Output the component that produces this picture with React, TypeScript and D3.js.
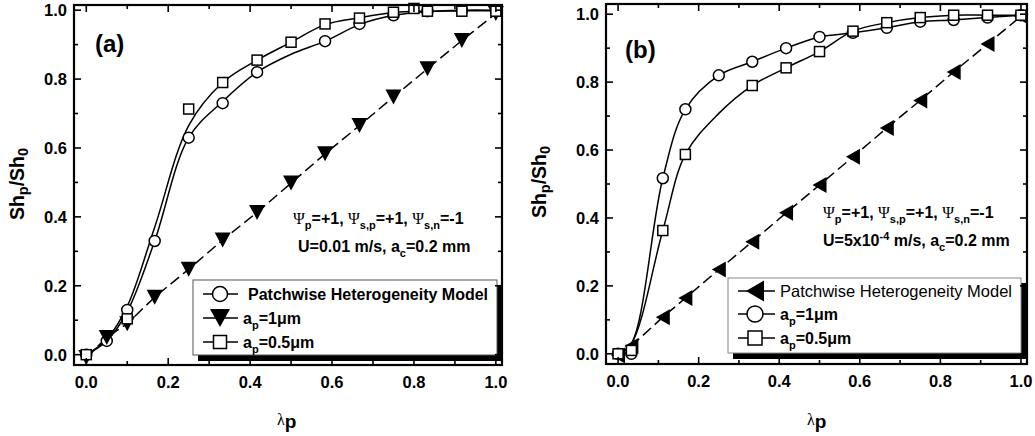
import React from "react";
import * as d3 from "d3";

// ---------- Panel (a) data ----------
const A_CIRCLE_X = [0, 0.05, 0.1, 0.167, 0.25, 0.333, 0.417, 0.583, 0.667, 0.75, 0.833, 0.917, 1.0];
const A_CIRCLE_Y = [0, 0.04, 0.13, 0.33, 0.63, 0.73, 0.82, 0.91, 0.96, 0.985, 0.997, 1.0, 1.0];
const A_TRI_X = [0, 0.05, 0.1, 0.167, 0.25, 0.333, 0.417, 0.5, 0.583, 0.667, 0.75, 0.833, 0.917, 1.0];
const A_TRI_Y = [-0.008, 0.05, 0.09, 0.167, 0.248, 0.333, 0.413, 0.498, 0.583, 0.665, 0.748, 0.83, 0.912, 0.99];
const A_SQ_X = [0, 0.1, 0.25, 0.333, 0.417, 0.5, 0.583, 0.667, 0.75, 0.8, 0.833, 0.917, 1.0];
const A_SQ_Y = [0, 0.104, 0.713, 0.79, 0.855, 0.907, 0.96, 0.977, 0.994, 1.005, 0.997, 0.997, 0.997];
// fitted (spline) curves
const A_CIRCLE_FIT_X = [0, 0.05, 0.1, 0.167, 0.25, 0.333, 0.417, 0.5, 0.583, 0.667, 0.75, 0.833, 0.917, 1.0];
const A_CIRCLE_FIT_Y = [0, 0.04, 0.125, 0.33, 0.63, 0.735, 0.82, 0.872, 0.91, 0.958, 0.985, 0.996, 1.0, 1.0];
const A_SQ_FIT_X = [0, 0.05, 0.1, 0.167, 0.25, 0.333, 0.417, 0.5, 0.583, 0.667, 0.75, 0.833, 0.917, 1.0];
const A_SQ_FIT_Y = [0, 0.045, 0.14, 0.37, 0.665, 0.79, 0.855, 0.907, 0.958, 0.978, 0.993, 0.997, 0.998, 0.998];

// ---------- Panel (b) data ----------
const B_TRI_X = [0, 0.033, 0.111, 0.167, 0.25, 0.333, 0.417, 0.5, 0.583, 0.667, 0.75, 0.833, 0.917, 1.0];
const B_TRI_Y = [-0.005, 0.023, 0.108, 0.164, 0.248, 0.33, 0.415, 0.497, 0.58, 0.665, 0.746, 0.83, 0.912, 0.994];
const B_CIRCLE_X = [0, 0.033, 0.111, 0.167, 0.25, 0.333, 0.417, 0.5, 0.583, 0.667, 0.75, 0.833, 0.917, 1.0];
const B_CIRCLE_Y = [0, 0.0, 0.517, 0.72, 0.82, 0.86, 0.9, 0.933, 0.945, 0.96, 0.978, 0.983, 0.99, 0.997];
const B_SQ_X = [0, 0.033, 0.111, 0.167, 0.333, 0.417, 0.5, 0.583, 0.667, 0.75, 0.833, 0.917, 1.0];
const B_SQ_Y = [0, 0.01, 0.363, 0.587, 0.79, 0.842, 0.89, 0.95, 0.975, 0.99, 0.997, 0.997, 0.997];
const B_CIRCLE_FIT_X = [0, 0.033, 0.111, 0.167, 0.25, 0.333, 0.417, 0.5, 0.583, 0.667, 0.75, 0.833, 0.917, 1.0];
const B_CIRCLE_FIT_Y = [0, 0.03, 0.517, 0.72, 0.82, 0.86, 0.9, 0.933, 0.945, 0.96, 0.978, 0.983, 0.99, 0.997];
const B_SQ_FIT_X = [0, 0.033, 0.111, 0.167, 0.25, 0.333, 0.417, 0.5, 0.583, 0.667, 0.75, 0.833, 0.917, 1.0];
const B_SQ_FIT_Y = [0, 0.03, 0.363, 0.587, 0.708, 0.79, 0.842, 0.89, 0.95, 0.975, 0.99, 0.997, 0.997, 0.997];

// ---------- Axes ----------
const MAJOR_TICKS = [0, 0.2, 0.4, 0.6, 0.8, 1.0];
const MINOR_TICKS = [0.1, 0.3, 0.5, 0.7, 0.9];
const TICK_LABELS = ["0.0", "0.2", "0.4", "0.6", "0.8", "1.0"];

const LEGEND_A = ["Patchwise Heterogeneity Model", "a_p=1μm", "a_p=0.5μm"];
const LEGEND_B = ["Patchwise Heterogeneity Model", "a_p=1μm", "a_p=0.5μm"];

const SANS = "'Liberation Sans', Arial, sans-serif";
const SERIF = "'Liberation Serif', 'Times New Roman', serif";

type Seg = { t: string; sub?: boolean; sup?: boolean; serif?: boolean; bold?: boolean };

function Rich({ x, y, segs, size, weight = "bold", subSize = 11 }: { x: number; y: number; segs: Seg[]; size: number; weight?: string; subSize?: number }) {
  let cur = 0;
  return (
    <text x={x} y={y} fontFamily={SANS} fontSize={size} fontWeight={weight} fill="#000">
      {segs.map((s, i) => {
        const target = s.sub ? 5 : s.sup ? -6 : 0;
        const dy = target - cur;
        cur = target;
        return (
          <tspan
            key={i}
            dy={dy}
            fontSize={s.sub || s.sup ? subSize : size}
            fontFamily={s.serif ? SERIF : SANS}
            fontWeight={s.serif ? "normal" : s.bold === false ? "normal" : weight}
          >
            {s.t}
          </tspan>
        );
      })}
    </text>
  );
}

function legendSegs(label: string): Seg[] {
  if (label.startsWith("a_p")) {
    return [{ t: "a" }, { t: "p", sub: true }, { t: label.slice(3) }];
  }
  return [{ t: label }];
}

function Circle({ cx, cy, r = 5.5 }: { cx: number; cy: number; r?: number }) {
  return <circle cx={cx} cy={cy} r={r} fill="#fff" stroke="#000" strokeWidth={1.5} />;
}
function Square({ cx, cy, s = 10 }: { cx: number; cy: number; s?: number }) {
  return <rect x={cx - s / 2} y={cy - s / 2} width={s} height={s} fill="#fff" stroke="#000" strokeWidth={1.5} />;
}
function TriDown({ cx, cy, w = 16, h = 15 }: { cx: number; cy: number; w?: number; h?: number }) {
  return <path d={`M${cx - w / 2},${cy - h / 2}L${cx + w / 2},${cy - h / 2}L${cx},${cy + h / 2}Z`} fill="#000" />;
}
function TriLeft({ cx, cy, w = 14, h = 16 }: { cx: number; cy: number; w?: number; h?: number }) {
  return <path d={`M${cx - w / 2},${cy}L${cx + w / 2},${cy - h / 2}L${cx + w / 2},${cy + h / 2}Z`} fill="#000" />;
}

type PanelProps = {
  left: number; right: number; top: number; bottom: number;
  yMax: number;
  children: (x: d3.ScaleLinear<number, number>, y: d3.ScaleLinear<number, number>) => React.ReactNode;
};

function Frame({ left, right, top, bottom, yMax, children }: PanelProps) {
  const x = d3.scaleLinear().domain([-0.03, 1.015]).range([left, right]);
  const y = d3.scaleLinear().domain([-0.03, yMax]).range([bottom, top]);
  const maj = 7, min = 4;
  return (
    <g>
      {children(x, y)}
      <g stroke="#000" strokeWidth={1.6}>
        {MAJOR_TICKS.map((t) => (
          <g key={"M" + t}>
            <line x1={x(t)} x2={x(t)} y1={bottom} y2={bottom - maj} />
            <line x1={x(t)} x2={x(t)} y1={top} y2={top + maj} />
            <line x1={left} x2={left + maj} y1={y(t)} y2={y(t)} />
            <line x1={right} x2={right - maj} y1={y(t)} y2={y(t)} />
          </g>
        ))}
        {MINOR_TICKS.map((t) => (
          <g key={"m" + t}>
            <line x1={x(t)} x2={x(t)} y1={bottom} y2={bottom - min} />
            <line x1={x(t)} x2={x(t)} y1={top} y2={top + min} />
            <line x1={left} x2={left + min} y1={y(t)} y2={y(t)} />
            <line x1={right} x2={right - min} y1={y(t)} y2={y(t)} />
          </g>
        ))}
      </g>
      <rect x={left} y={top} width={right - left} height={bottom - top} fill="none" stroke="#000" strokeWidth={2.2} />
      <g fontFamily={SANS} fontWeight="bold" fontSize={16.5} fill="#000">
        {MAJOR_TICKS.map((t, i) => (
          <text key={"xl" + t} x={x(t)} y={bottom + 23} textAnchor="middle">{TICK_LABELS[i]}</text>
        ))}
        {MAJOR_TICKS.map((t, i) => (
          <text key={"yl" + t} x={left - 7} y={y(t)} dy="0.36em" textAnchor="end">{TICK_LABELS[i]}</text>
        ))}
      </g>
    </g>
  );
}

function YTitle({ cx, cy }: { cx: number; cy: number }) {
  return (
    <text transform={`translate(${cx},${cy}) rotate(-90)`} textAnchor="middle" fontFamily={SANS} fontWeight="bold" fontSize={19.5} fill="#000">
      <tspan>Sh</tspan>
      <tspan fontSize={14.5} dy={4}>p</tspan>
      <tspan dy={-4}>/Sh</tspan>
      <tspan fontSize={14.5} dy={4}>0</tspan>
    </text>
  );
}

function XTitle({ x, y }: { x: number; y: number }) {
  return (
    <text x={x} y={y} fontFamily={SANS} fill="#000">
      <tspan fontFamily={SERIF} fontSize={16} dy={-3}>λ</tspan>
      <tspan fontSize={19} fontWeight="bold" dy={3}>p</tspan>
    </text>
  );
}

const zipXY = (xs: number[], ys: number[]) => xs.map((v, i) => [v, ys[i]] as [number, number]);

export default function App() {
  const psiSegs: Seg[] = [
    { t: "Ψ", serif: true }, { t: "p", sub: true }, { t: "=+1, " },
    { t: "Ψ", serif: true }, { t: "s,p", sub: true }, { t: "=+1, " },
    { t: "Ψ", serif: true }, { t: "s,n", sub: true }, { t: "=-1" },
  ];
  const uSegsA: Seg[] = [{ t: "U=0.01 m/s, a" }, { t: "c", sub: true }, { t: "=0.2 mm" }];
  const uSegsB: Seg[] = [{ t: "U=5x10" }, { t: "-4", sup: true }, { t: " m/s, a" }, { t: "c", sub: true }, { t: "=0.2 mm" }];

  return (
    <svg width={1035} height={436} style={{ position: "absolute", left: 0, top: 0, background: "#fff" }}>
      <rect width={1035} height={436} fill="#fff" />
      {/* ---------------- Panel (a) ---------------- */}
      <Frame
        left={74} right={502} top={5} bottom={365} yMax={1.015}
        children={(x, y) => {
          const spline = d3.line<[number, number]>().x((d) => x(d[0])).y((d) => y(d[1])).curve(d3.curveCatmullRom.alpha(0.5));
          const straight = d3.line<[number, number]>().x((d) => x(d[0])).y((d) => y(d[1]));
          return (
            <g>
              <path d={spline(zipXY(A_CIRCLE_FIT_X, A_CIRCLE_FIT_Y)) || ""} fill="none" stroke="#000" strokeWidth={1.5} />
              <path d={spline(zipXY(A_SQ_FIT_X, A_SQ_FIT_Y)) || ""} fill="none" stroke="#000" strokeWidth={1.5} />
              <path d={straight(zipXY(A_TRI_X, A_TRI_Y)) || ""} fill="none" stroke="#000" strokeWidth={1.5} strokeDasharray="11,5" />
              {A_CIRCLE_X.map((v, i) => <Circle key={"ac" + i} cx={x(v)} cy={y(A_CIRCLE_Y[i])} />)}
              {A_TRI_X.map((v, i) => <TriDown key={"at" + i} cx={x(v)} cy={y(A_TRI_Y[i])} />)}
              {A_SQ_X.map((v, i) => <Square key={"as" + i} cx={x(v)} cy={y(A_SQ_Y[i])} />)}
              <text x={95} y={52} fontFamily={SANS} fontWeight="bold" fontSize={24}>(a)</text>
              <Rich x={293} y={224} segs={psiSegs} size={16} />
              <Rich x={298} y={252} segs={uSegsA} size={16} />
              {/* legend */}
              <rect x={198} y={285} width={305} height={76} fill="#000" />
              <rect x={193} y={280} width={304} height={75} fill="#fff" stroke="#555" strokeWidth={1} />
              {LEGEND_A.map((lab, i) => {
                const cy = [294, 318, 342][i];
                return (
                  <g key={"la" + i}>
                    <line x1={203} x2={238} y1={cy} y2={cy} stroke="#000" strokeWidth={1.5} />
                    {i === 0 && <Circle cx={220} cy={cy} r={7.5} />}
                    {i === 1 && <TriDown cx={220} cy={cy} w={20} h={18} />}
                    {i === 2 && <Square cx={220} cy={cy} s={13} />}
                    <Rich x={i === 0 ? 248 : 243} y={cy + 6} segs={legendSegs(lab)} size={16} subSize={11} />
                  </g>
                );
              })}
            </g>
          );
        }}
      />
      <YTitle cx={24} cy={184} />
      <XTitle x={277} y={428} />

      {/* ---------------- Panel (b) ---------------- */}
      <Frame
        left={606} right={1027} top={4} bottom={364} yMax={1.03}
        children={(x, y) => {
          const spline = d3.line<[number, number]>().x((d) => x(d[0])).y((d) => y(d[1])).curve(d3.curveCatmullRom.alpha(0.5));
          const straight = d3.line<[number, number]>().x((d) => x(d[0])).y((d) => y(d[1]));
          return (
            <g>
              <path d={spline(zipXY(B_CIRCLE_FIT_X, B_CIRCLE_FIT_Y)) || ""} fill="none" stroke="#000" strokeWidth={1.5} />
              <path d={spline(zipXY(B_SQ_FIT_X, B_SQ_FIT_Y)) || ""} fill="none" stroke="#000" strokeWidth={1.5} />
              <path d={straight(zipXY(B_TRI_X, B_TRI_Y)) || ""} fill="none" stroke="#000" strokeWidth={1.5} strokeDasharray="11,5" />
              {B_TRI_X.map((v, i) => <TriLeft key={"bt" + i} cx={x(v)} cy={y(B_TRI_Y[i])} />)}
              {B_CIRCLE_X.map((v, i) => <Circle key={"bc" + i} cx={x(v)} cy={y(B_CIRCLE_Y[i])} />)}
              {B_SQ_X.map((v, i) => <Square key={"bs" + i} cx={x(v)} cy={y(B_SQ_Y[i])} />)}
              <text x={625} y={58} fontFamily={SANS} fontWeight="bold" fontSize={24}>(b)</text>
              <Rich x={823} y={218} segs={psiSegs} size={16} />
              <Rich x={823} y={246} segs={uSegsB} size={16} />
              {/* legend */}
              <rect x={733} y={283} width={293} height={76} fill="#000" />
              <rect x={728} y={278} width={293} height={75} fill="#fff" stroke="#888" strokeWidth={1} />
              {LEGEND_B.map((lab, i) => {
                const cy = [291, 314, 338][i];
                return (
                  <g key={"lb" + i}>
                    <line x1={738} x2={775} y1={cy} y2={cy} stroke="#000" strokeWidth={1.5} />
                    {i === 0 && <TriLeft cx={755} cy={cy} w={18} h={21} />}
                    {i === 1 && <Circle cx={755} cy={cy} r={8} />}
                    {i === 2 && <Square cx={755} cy={cy} s={14} />}
                    <Rich x={780} y={cy + 6} segs={legendSegs(lab)} size={i === 0 ? 16.5 : 16} weight={i === 0 ? "normal" : "bold"} subSize={11} />
                  </g>
                );
              })}
            </g>
          );
        }}
      />
      <YTitle cx={546} cy={182} />
      <XTitle x={807} y={428} />
    </svg>
  );
}
